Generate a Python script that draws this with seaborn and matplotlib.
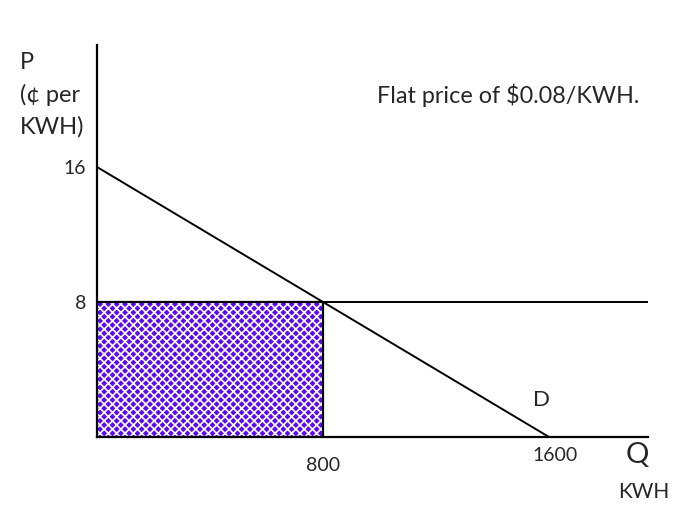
import matplotlib
matplotlib.use("Agg")
import matplotlib.pyplot as plt
import seaborn as sns
import numpy as np

# dati del diagramma (prezzo in centesimi, quantita in KWH)
demand_q = [0, 1600]
demand_p = [16, 0]
flat_price = 8
q_at_price = 800
price_ticks = [8, 16]
qty_ticks = [800, 1600]

sns.set_theme(style="white")
plt.rcParams['font.family'] = ['Lato', 'DejaVu Sans']
plt.rcParams['hatch.linewidth'] = 1.2

fig = plt.figure(figsize=(6.89, 5.21), dpi=100)
W, H = 689, 521
# assi posizionati in pixel: x da 97 a 648, y da 437 a 45
ax = fig.add_axes([97 / W, (H - 437) / H, (648 - 97) / W, (437 - 45) / H])
px_q = (323 - 97) / 800.0
px_p = (437 - 167) / 16.0
ax.set_xlim(0, (648 - 97) / px_q)
ax.set_ylim(0, (437 - 45) / px_p)

for s in ["top", "right"]:
    ax.spines[s].set_visible(False)
for s in ["left", "bottom"]:
    ax.spines[s].set_color("black")
    ax.spines[s].set_linewidth(1.6)

# area tratteggiata
ax.fill_between([0, q_at_price], 0, flat_price, facecolor="#5a0af5",
                edgecolor="white", hatch="xxxx", linewidth=0, zorder=1)
ax.plot([0, q_at_price, q_at_price, 0], [flat_price, flat_price, 0, 0],
        color="black", lw=1.6, zorder=3, solid_capstyle="butt")

sns.lineplot(x=demand_q, y=demand_p, ax=ax, color="black", lw=1.4, zorder=4)
ax.axhline(flat_price, color="black", lw=1.4, zorder=3)

ax.set_xticks([])
ax.set_yticks(price_ticks)
ax.set_yticklabels([str(v) for v in price_ticks], fontsize=14)
ax.tick_params(axis="y", length=0, pad=8)

ax.text(qty_ticks[0], -1.7, str(qty_ticks[0]), ha="center", va="center", fontsize=14)
ax.text(qty_ticks[1] + 20, -1.1, str(qty_ticks[1]), ha="center", va="center", fontsize=14)
ax.text(1575, 2.2, "D", ha="center", va="center", fontsize=16)

fig.text(20 / W, 1 - 52 / H, "P\n(\u00a2 per\nKWH)", ha="left", va="top",
         fontsize=17, linespacing=1.6)
fig.text(377 / W, 1 - 95 / H, "Flat price of $0.08/KWH.", ha="left", va="center",
         fontsize=16.8)
fig.text(637 / W, 1 - 455 / H, "Q", ha="center", va="center", fontsize=21)
fig.text(644 / W, 1 - 492 / H, "KWH", ha="center", va="center", fontsize=15)

fig.savefig("out.png", dpi=100)
